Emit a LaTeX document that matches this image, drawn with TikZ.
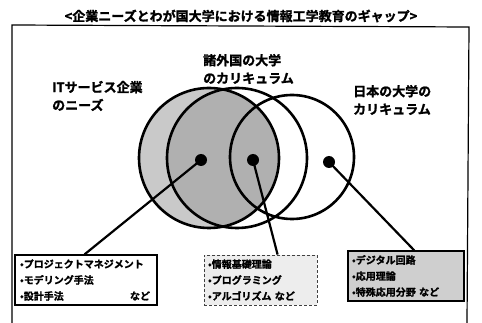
\documentclass[tikz,border=0pt]{standalone}
\usepackage{fontspec}
\setmainfont{Noto Sans CJK JP}[BoldFont={Noto Sans CJK JP Bold}, BoldFeatures={FakeBold=1.5}]
\usetikzlibrary{calc}
\begin{document}
\begin{tikzpicture}[x=1pt,y=-1pt,
  ring/.style={line width=2.6pt},
  spot/.style={circle, fill=black, inner sep=0pt, minimum size=12pt},
  link/.style={line width=2.2pt},
  lbl/.style={font=\fontsize{13}{18}\selectfont\bfseries, align=left, inner sep=0pt, anchor=west},
  itembox/.style={inner sep=0pt, font=\fontsize{10}{16}\selectfont\bfseries, align=left, minimum height=50pt}
]
\useasboundingbox (0,0) rectangle (482,323);
% frame and title
\draw[line width=1.2pt] (12,323) -- (12,25) -- (469,27) -- (467,323);
\node[font=\fontsize{13}{15}\selectfont\bfseries, inner sep=0pt] (title) at (241,16) {<企業ニーズとわが国大学における情報工学教育のギャップ>};
% shaded areas
\fill[gray!42] (209,158) circle[radius=70pt];
\begin{scope}
  \clip (209,158) circle[radius=70pt];
  \fill[gray!62] (237,158) circle[radius=70pt];
\end{scope}
% circle outlines
\draw[ring] (209,158) circle[radius=70pt];
\draw[ring] (237,158) circle[radius=70pt];
\draw[ring] (292,157) circle[radius=62pt];
% labels
\node[lbl] (lneeds) at (52,96) {ITサービス企業\\のニーズ};
\node[lbl] (lforeign) at (203,69) {諸外国の大学\\のカリキュラム};
\node[lbl] (ljapan) at (353,100) {日本の大学の\\カリキュラム};
% dots
\node[spot] (d1) at (201,160) {};
\node[spot] (d2) at (253,160) {};
\node[spot] (d3) at (329,162) {};
% boxes
\node[itembox, draw, line width=1.3pt, fill=white, minimum width=142pt, text width=132pt] (b1) at (86,280)
  {•プロジェクトマネジメント\\•モデリング手法\\\makebox[\linewidth][l]{•設計手法\hfill など\hspace{2pt}}};
\node[itembox, draw=black!75, densely dashed, line width=0.9pt, fill=gray!14, minimum width=113pt, text width=105pt] (b2) at (260.5,280)
  {•情報基礎理論\\•プログラミング\\•アルゴリズム など};
\node[itembox, draw, line width=1.3pt, fill=gray!38, minimum width=116pt, text width=108pt] (b3) at (406,276)
  {•デジタル回路\\•応用理論\\•特殊応用分野 など};
% connectors
\draw[link] (d1.center) -- ($(b1.north west)!0.49!(b1.north east)$);
\draw[link] (d2.center) -- ($(b2.north west)!0.65!(b2.north east)$);
\draw[link] (d3.center) -- ($(b3.north west)!0.57!(b3.north east)$);
\end{tikzpicture}
\end{document}
